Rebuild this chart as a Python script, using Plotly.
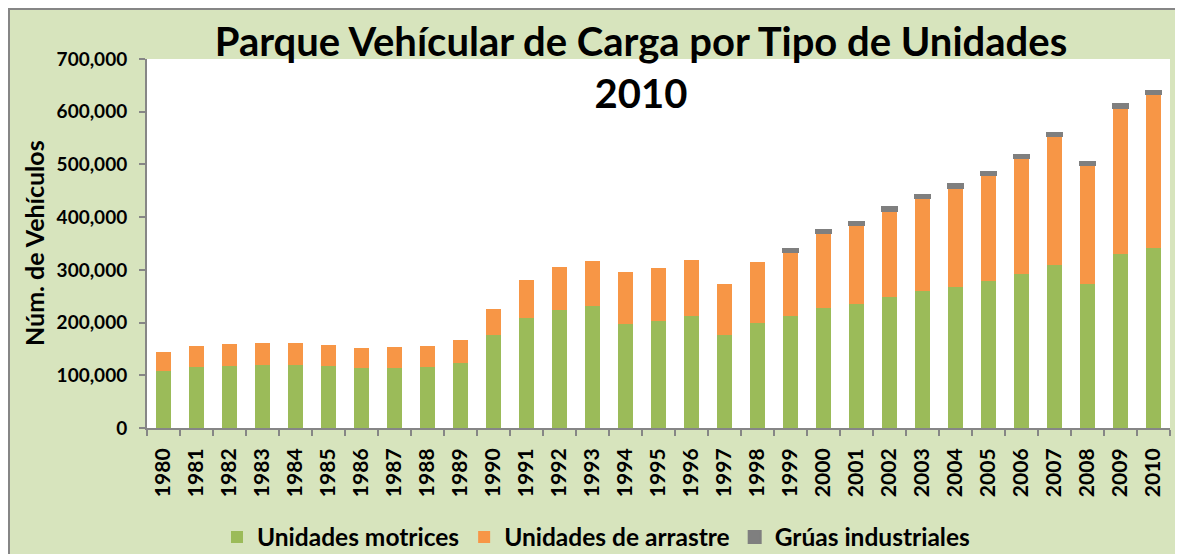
import plotly.graph_objects as go

years = [str(y) for y in range(1980, 2011)]

motrices = [109000, 115000, 118000, 120000, 120000, 117000, 113000, 114000, 115000, 124000,
            177000, 208000, 223000, 231000, 197000, 203000, 212000, 176000, 200000, 212000,
            227000, 235000, 249000, 260000, 268000, 278000, 292000, 310000, 273000, 331000,
            341500]

arrastre = [35000, 40000, 42000, 41500, 41500, 41000, 39500, 40000, 40000, 42000,
            48000, 72000, 83000, 85000, 98000, 100000, 106000, 98000, 115000, 121000,
            142500, 150000, 163500, 176000, 188000, 202500, 220000, 243500, 226000, 277000,
            291500]

gruas = [None, None, None, None, None, None, None, None, None, None,
         None, None, None, None, None, None, None, None, None, 6000,
         6000, 6000, 6000, 6000, 6000, 6000, 6000, 6000, 6000, 6000,
         6000]

green = "#9BBB59"
orange = "#F79646"
gray = "#7F7F7F"
bg = "#D7E4BD"
font_family = "Lato"

fig = go.Figure()
fig.add_trace(go.Bar(name="Unidades motrices", x=years, y=motrices,
                     marker=dict(color=green, line=dict(width=0))))
fig.add_trace(go.Bar(name="Unidades de arrastre", x=years, y=arrastre,
                     marker=dict(color=orange, line=dict(width=0))))
fig.add_trace(go.Bar(name="Grúas industriales", x=years, y=gruas,
                     marker=dict(color=gray, line=dict(width=2, color=gray))))

# page body has an 8px margin, so figure coords = page coords - 8
W, H = 1175, 546
L, R, T, B = 139, 13, 51, 126
pw, ph = W - L - R, H - T - B

def px_x(p):
    return (p - L) / pw

def px_y(p):
    return (H - B - p) / ph

fig.add_shape(type="rect", xref="paper", yref="paper", layer="below",
              x0=px_x(1), x1=px_x(1190), y0=px_y(560), y1=px_y(1),
              fillcolor=bg, line=dict(color="#868686", width=2))
fig.add_shape(type="rect", xref="paper", yref="paper", layer="below",
              x0=0, x1=1, y0=0, y1=1, fillcolor="white", line=dict(width=0))

# y axis title as an annotation so it sits where the reference has it
fig.add_annotation(text="Núm. de Vehículos", textangle=-90, showarrow=False,
                   xref="paper", yref="paper", x=px_x(26), y=px_y(235),
                   xanchor="center", yanchor="middle",
                   font=dict(size=25, family=font_family, weight="bold", color="black"))

fig.update_layout(
    barmode="stack",
    bargap=0.55,
    width=W, height=H,
    margin=dict(l=L, r=R, t=T, b=B, autoexpand=False),
    paper_bgcolor="white",
    plot_bgcolor="white",
    font=dict(family=font_family, color="black", weight="bold"),
    title=dict(text="Parque Vehícular de Carga por Tipo de Unidades<br>2010",
               x=633 / W, xanchor="center", xref="container",
               y=1 - 48 / H, yanchor="middle", yref="container",
               font=dict(size=40, family=font_family, weight="bold", color="black")),
    legend=dict(orientation="h", x=588 / W, xanchor="center", xref="container",
                y=1 - 529 / H, yanchor="middle", yref="container",
                font=dict(size=24.5, family=font_family, weight="bold"),
                bgcolor="rgba(0,0,0,0)", traceorder="normal"),
    showlegend=True,
)

fig.update_yaxes(range=[0, 700000], dtick=100000, tickformat=",",
                 showgrid=False, zeroline=False, automargin=False,
                 showline=True, linecolor="#868686", linewidth=2,
                 ticks="outside", ticklen=6, tickcolor="#868686", tickwidth=2,
                 ticklabelstandoff=8,
                 tickfont=dict(size=19, weight="bold"))

fig.update_xaxes(type="category", tickangle=-90, showgrid=False, automargin=False,
                 showline=True, linecolor="#868686", linewidth=2,
                 ticks="outside", ticklen=6, tickcolor="#868686", tickwidth=2,
                 tickson="boundaries", ticklabelstandoff=10,
                 tickfont=dict(size=21, weight="bold"))

fig.write_html("out.html")
